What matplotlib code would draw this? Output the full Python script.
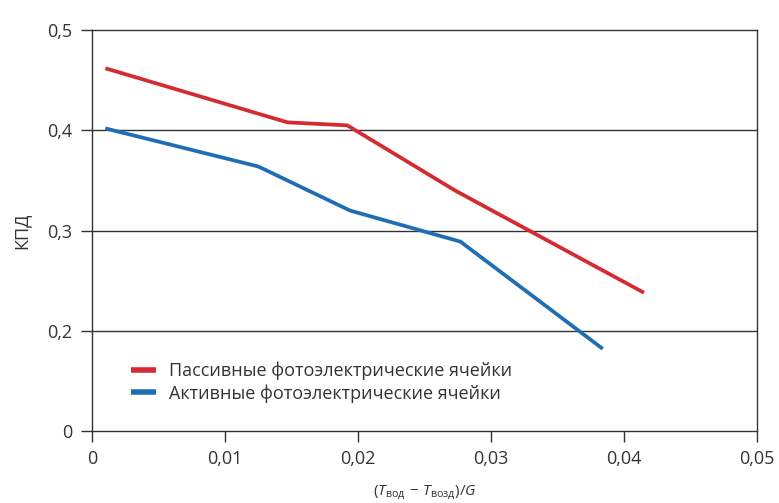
import numpy as np
import matplotlib
matplotlib.use("Agg")
import matplotlib.pyplot as plt

plt.rcParams['font.family'] = ['Open Sans', 'DejaVu Sans']
plt.rcParams['mathtext.fontset'] = 'custom'
plt.rcParams['mathtext.rm'] = 'Open Sans'
plt.rcParams['mathtext.it'] = 'Open Sans:italic'

# Efficiency vs. reduced temperature difference
x_passive = [0.001, 0.0147, 0.0192, 0.0273, 0.0415]
y_passive = [0.462, 0.408, 0.405, 0.340, 0.238]

x_active = [0.001, 0.0125, 0.0194, 0.0277, 0.0384]
y_active = [0.402, 0.364, 0.320, 0.289, 0.182]

labels = ["Пассивные фотоэлектрические ячейки",
          "Активные фотоэлектрические ячейки"]

y_ticks = [0.1, 0.2, 0.3, 0.4, 0.5]
y_ticklabels = ["0", "0,2", "0,3", "0,4", "0,5"]
x_ticks = [0, 0.01, 0.02, 0.03, 0.04, 0.05]
x_ticklabels = ["0", "0,01", "0,02", "0,03", "0,04", "0,05"]

fig = plt.figure(figsize=(7.79, 5.03), dpi=100)
ax = fig.add_axes([0.1181, 0.1431, 0.8537, 0.7969])

ax.plot(x_passive, y_passive, color='#d42a32', lw=2.7, label=labels[0],
        solid_capstyle='butt')
ax.plot(x_active, y_active, color='#1f6db3', lw=2.7, label=labels[1],
        solid_capstyle='butt')

ax.set_xlim(0, 0.05)
ax.set_ylim(0.1, 0.5)
ax.set_xticks(x_ticks)
ax.set_xticklabels(x_ticklabels)
ax.set_yticks(y_ticks)
ax.set_yticklabels(y_ticklabels)

# horizontal rules at the inner ticks
for yv in y_ticks[1:-1]:
    ax.axhline(yv, color='#333333', lw=1.0, zorder=0)

for s in ax.spines.values():
    s.set_color('#333333')
    s.set_linewidth(1.0)

ax.tick_params(direction='out', length=8, width=1.0, color='#333333',
               labelcolor='#333333', labelsize=13, pad=6)

ax.set_ylabel("КПД", fontsize=13, color='#333333', labelpad=12)
ax.set_xlabel(r"$(T_{\mathrm{вод}}\,-\,T_{\mathrm{возд}})/G$", fontsize=11,
              color='#333333', labelpad=11)

leg = ax.legend(loc='lower left', bbox_to_anchor=(0.034, 0.03), frameon=False,
                fontsize=13, handlelength=1.4, handletextpad=0.7,
                labelspacing=0.22, labelcolor='#333333')
for h in leg.get_lines():
    h.set_linewidth(4)

fig.savefig("out.png", dpi=100, facecolor='white')
